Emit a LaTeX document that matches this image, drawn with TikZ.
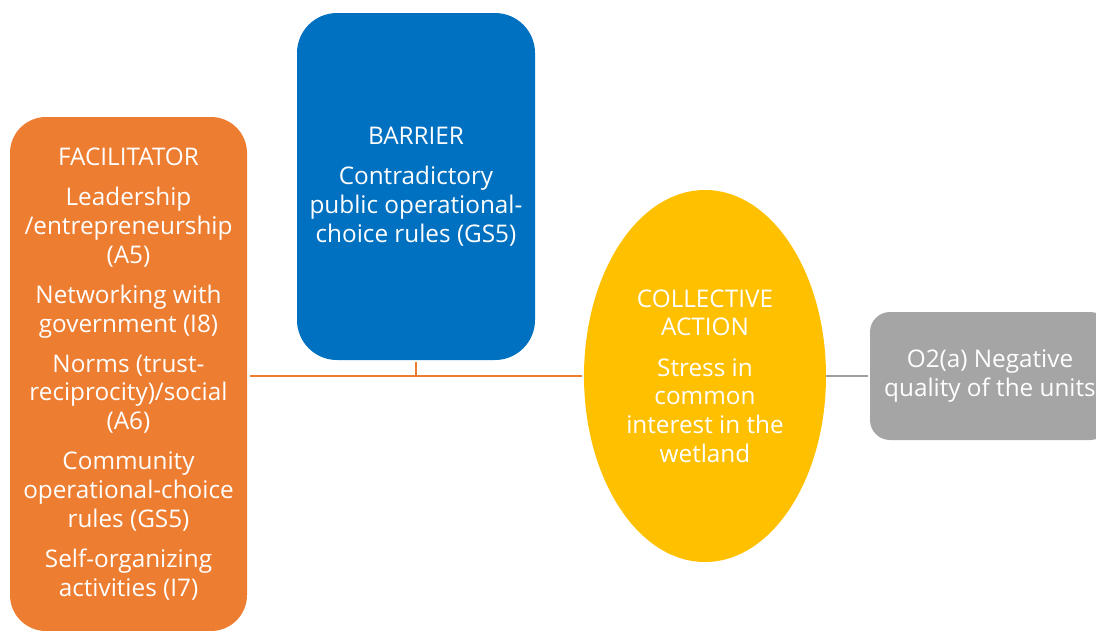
\documentclass[tikz,border=0pt]{standalone}
\usepackage{fontspec}
\setmainfont{Open Sans}
\usetikzlibrary{shapes.geometric}
\definecolor{cOrange}{HTML}{ED7D31}
\definecolor{cBlue}{HTML}{0070C0}
\definecolor{cYellow}{HTML}{FFC000}
\definecolor{cGray}{HTML}{A5A5A5}
\definecolor{cGrayLine}{HTML}{9E9E9E}
\tikzset{
  boxtext/.style={text=white, align=center, font=\fontsize{24.3pt}{28.7pt}\selectfont, inner sep=0pt},
  facbox/.style={boxtext, fill=cOrange, rounded corners=36pt, minimum width=237pt, minimum height=514pt},
  barbox/.style={boxtext, fill=cBlue, rounded corners=40pt, minimum width=238pt, minimum height=347pt},
  cabox/.style={boxtext, ellipse, fill=cYellow, minimum width=242pt, minimum height=372pt},
  outbox/.style={boxtext, fill=cGray, rounded corners=20pt, minimum width=240pt, minimum height=128pt},
  oconn/.style={draw=cOrange, line width=2pt},
  gconn/.style={draw=cGrayLine, line width=2pt},
}
\begin{document}
\begin{tikzpicture}[x=1pt,y=-1pt]
\useasboundingbox (0,0) rectangle (1096,630);
\clip (0,0) rectangle (1096,630);
\node[facbox] (fac) at (128.5,374) {FACILITATOR\\[11.5pt]Leadership\\/entrepreneurship\\(A5)\\[11.5pt]Networking with\\government (I8)\\[11.5pt]Norms (trust-\\reciprocity)/social\\(A6)\\[11.5pt]Community\\operational-choice\\rules (GS5)\\[11.5pt]Self-organizing\\activities (I7)};
\node[barbox] (bar) at (416,186.5) {BARRIER\\[11.5pt]Contradictory\\public operational-\\choice rules (GS5)};
\node[cabox] (ca) at (705,376) {COLLECTIVE\\ACTION\\[11.5pt]Stress in\\common\\interest in the\\wetland};
\node[outbox] (out) at (990,376) {O2(a) Negative\\quality of the units};
\draw[oconn, shorten <=3pt, shorten >=2pt] (fac.east |- ca.west) -- (ca.west);
\draw[oconn] ([yshift=-2pt]bar.south) -- (bar.south |- ca.west);
\draw[gconn, shorten >=2pt] (ca.east) -- (out.west);
\end{tikzpicture}
\end{document}
